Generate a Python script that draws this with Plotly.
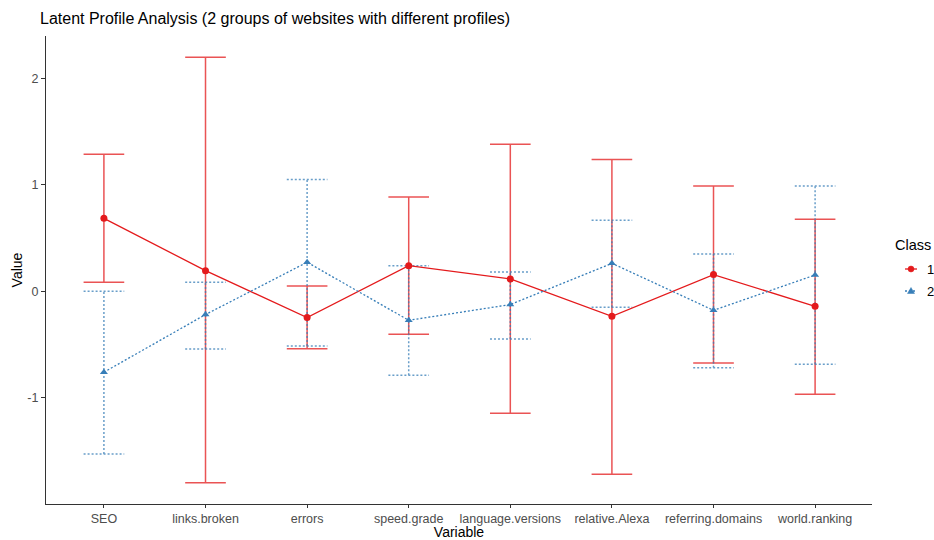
import plotly.graph_objects as go

# Indicator names along the x axis
variables = ["SEO", "links.broken", "errors", "speed.grade", "language.versions",
             "relative.Alexa", "referring.domains", "world.ranking"]

# Class 1: profile means with lower / upper interval bounds
class1_mean = [0.686, 0.194, -0.247, 0.241, 0.116, -0.235, 0.157, -0.141]
class1_low = [0.085, -1.80, -0.540, -0.404, -1.147, -1.72, -0.674, -0.968]
class1_high = [1.288, 2.20, 0.050, 0.886, 1.382, 1.238, 0.990, 0.677]

# Class 2: profile means with lower / upper interval bounds
class2_mean = [-0.761, -0.219, 0.273, -0.273, -0.125, 0.263, -0.179, 0.153]
class2_low = [-1.53, -0.542, -0.514, -0.790, -0.448, -0.150, -0.720, -0.686]
class2_high = [0.000, 0.085, 1.050, 0.241, 0.181, 0.667, 0.351, 0.990]

class_names = ["1", "2"]
y_ticks = [-1, 0, 1, 2]
y_tick_labels = ["-1", "0", "1", "2"]

RED = "#E41A1C"
BLUE = "#377EB8"
DOT = "2px,2px"
CAP = 0.2  # half-width of the error-bar caps in category units

W, H = 934, 540
ML, MR, MT, MB = 46, 62, 36, 36
PW, PH = W - ML - MR, H - MT - MB

xpos = list(range(len(variables)))


def errorbar_path(low, high):
    xs, ys = [], []
    for i, (lo, hi) in enumerate(zip(low, high)):
        xs += [i, i, None, i - CAP, i + CAP, None, i - CAP, i + CAP, None]
        ys += [lo, hi, None, hi, hi, None, lo, lo, None]
    return xs, ys


def px(x):  # pixel column -> paper x
    return (x - ML) / PW


def py(y):  # pixel row -> paper y
    return (H - MB - y) / PH


fig = go.Figure()

series = [
    (class_names[0], class1_mean, class1_low, class1_high, RED, "solid", "circle"),
    (class_names[1], class2_mean, class2_low, class2_high, BLUE, DOT, "triangle-up"),
]

for name, mean, low, high, color, dash, symbol in series:
    ex, ey = errorbar_path(low, high)
    fig.add_trace(go.Scatter(
        x=ex, y=ey, mode="lines", showlegend=False, hoverinfo="skip",
        line=dict(color=color, width=1.5, dash=dash), opacity=0.75,
    ))

for name, mean, low, high, color, dash, symbol in series:
    fig.add_trace(go.Scatter(
        x=xpos, y=mean, mode="lines+markers", name=name, showlegend=False,
        line=dict(color=color, width=1.3, dash=dash),
        marker=dict(color=color, symbol=symbol, size=7),
    ))

# Compact legend key in the right margin: "Class" header plus two entries
shapes = []
annotations = [dict(
    text="Class", xref="paper", yref="paper", x=px(893), y=py(245),
    xanchor="left", yanchor="middle", showarrow=False,
    font=dict(size=14.5, color="#000000"),
)]
key_rows = [269, 291]
for (name, mean, low, high, color, dash, symbol), row in zip(series, key_rows):
    shapes.append(dict(
        type="line", xref="paper", yref="paper",
        x0=px(905), x1=px(917), y0=py(row), y1=py(row),
        line=dict(color=color, width=1.3, dash=dash),
    ))
    if symbol == "circle":
        shapes.append(dict(
            type="circle", xref="paper", yref="paper",
            x0=px(908), x1=px(914), y0=py(row + 3), y1=py(row - 3),
            fillcolor=color, line=dict(color=color, width=0.5),
        ))
    else:
        shapes.append(dict(
            type="path", xref="paper", yref="paper",
            path=f"M {px(907.5)},{py(row + 2.5)} L {px(914.5)},{py(row + 2.5)} "
                 f"L {px(911)},{py(row - 3.5)} Z",
            fillcolor=color, line=dict(color=color, width=0.5),
        ))
    annotations.append(dict(
        text=name, xref="paper", yref="paper", x=px(925), y=py(row),
        xanchor="left", yanchor="middle", showarrow=False,
        font=dict(size=13, color="#000000"),
    ))

fig.update_layout(
    width=W, height=H,
    margin=dict(l=ML, r=MR, t=MT, b=MB, autoexpand=False),
    paper_bgcolor="white", plot_bgcolor="white",
    font=dict(family="Liberation Sans, Arial, sans-serif", color="#000000"),
    title=dict(
        text="Latent Profile Analysis (2 groups of websites with different profiles)",
        x=40 / W, xanchor="left", y=1 - 18 / H, yanchor="middle",
        font=dict(size=16, color="#000000"),
    ),
    xaxis=dict(
        range=[-0.57, 7.56], tickmode="array", tickvals=xpos, ticktext=variables,
        showgrid=False, zeroline=False, showline=True, linecolor="#333333",
        linewidth=1.1, ticks="outside", ticklen=3, tickcolor="#333333",
        tickfont=dict(size=12.5, color="#4D4D4D"),
        title=dict(text="Variable", font=dict(size=14), standoff=2),
        automargin=False,
    ),
    yaxis=dict(
        range=[-2.0, 2.4], tickmode="array", tickvals=y_ticks, ticktext=y_tick_labels,
        showgrid=False, zeroline=False, showline=True, linecolor="#333333",
        linewidth=1.1, ticks="outside", ticklen=4, tickcolor="#333333",
        tickfont=dict(size=12.5, color="#4D4D4D"),
        title=dict(text="Value", font=dict(size=14), standoff=1),
        automargin=False,
    ),
    shapes=shapes,
    annotations=annotations,
    showlegend=False,
)

fig.write_html("out.html")
